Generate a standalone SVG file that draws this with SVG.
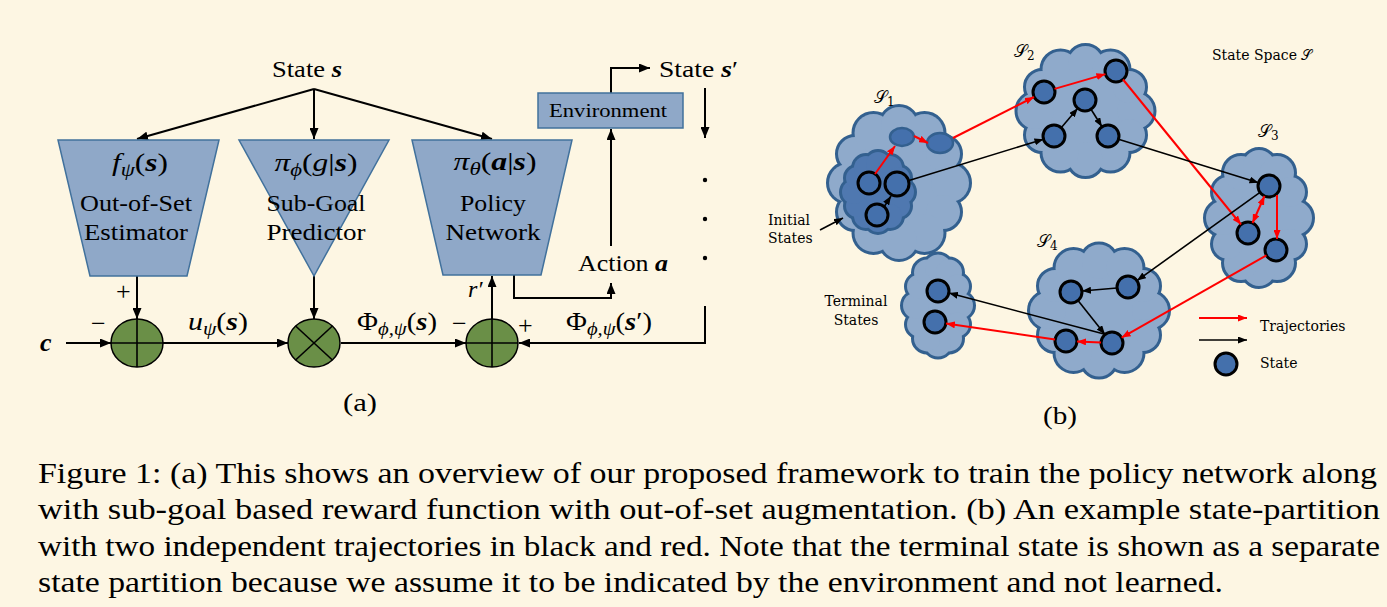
<svg xmlns="http://www.w3.org/2000/svg" xmlns:xlink="http://www.w3.org/1999/xlink" width="1387" height="607" viewBox="0 0 1387 607">
<style>
.bg{fill:#FDF6E3}
.ln{stroke:#000;stroke-width:2;fill:none}
.lb{stroke:#000;stroke-width:1.6;fill:none}
.lr{stroke:#FF0000;stroke-width:2;fill:none}
.blk{fill:#8FA8C8;stroke:#41719C;stroke-width:1.5}
.sum{fill:#6A8F47;stroke:#000;stroke-width:1.5}
.w{font-family:"DejaVu Serif","Liberation Serif",serif;fill:#000}
.m{font-family:"Liberation Serif",serif;fill:#000}
.i{font-style:italic}
.bi{font-style:italic;font-weight:bold}
.cs{fill:#33608F;stroke:#33608F;stroke-width:6}
.cf{fill:#8FAACB;stroke:none}
.cf2{fill:#4F78B0;stroke:none}
.st{fill:#4470AC;stroke:#000;stroke-width:3}
.cap{font-family:"Liberation Serif",serif;font-size:30px;fill:#000}
</style>
<defs>
<marker id="ah" markerUnits="userSpaceOnUse" markerWidth="11" markerHeight="9" refX="11" refY="4.5" orient="auto"><path d="M0,0 L11,4.5 L0,9 z" fill="#000"/></marker>
<marker id="bk" markerUnits="userSpaceOnUse" markerWidth="9" markerHeight="7" refX="9" refY="3.5" orient="auto-start-reverse"><path d="M0,0 L9,3.5 L0,7 z" fill="#000"/></marker>
<marker id="rd" markerUnits="userSpaceOnUse" markerWidth="9" markerHeight="7" refX="9" refY="3.5" orient="auto-start-reverse"><path d="M0,0 L9,3.5 L0,7 z" fill="#FF0000"/></marker>
<g id="cl1">
<ellipse cx="899" cy="183" rx="55" ry="62"/>
<circle cx="950" cy="183" r="19"/><circle cx="943" cy="212" r="17"/><circle cx="924.5" cy="233" r="19"/><circle cx="899" cy="241" r="18"/>
<circle cx="873.5" cy="233" r="19"/><circle cx="855" cy="212" r="17"/><circle cx="848" cy="183" r="19"/><circle cx="855" cy="154" r="17"/>
<circle cx="873.5" cy="133" r="19"/><circle cx="899" cy="125" r="18"/><circle cx="924.5" cy="133" r="19"/><circle cx="943" cy="154" r="17"/>
</g>
<g id="cl1i">
<ellipse cx="878" cy="192" rx="26" ry="30"/>
<circle cx="902" cy="192" r="12"/><circle cx="899" cy="206" r="11"/><circle cx="890" cy="216" r="12"/><circle cx="878" cy="220" r="12"/>
<circle cx="866" cy="216" r="12"/><circle cx="857" cy="206" r="11"/><circle cx="854" cy="192" r="12"/><circle cx="857" cy="178" r="11"/>
<circle cx="866" cy="168" r="12"/><circle cx="878" cy="164" r="12"/><circle cx="890" cy="168" r="12"/><circle cx="899" cy="178" r="11"/>
</g>
<g id="cl2">
<ellipse cx="1085.5" cy="111" rx="54" ry="52"/>
<circle cx="1135.5" cy="111" r="18"/><circle cx="1129" cy="135" r="16"/><circle cx="1110.5" cy="152.6" r="18"/><circle cx="1085.5" cy="159" r="17"/>
<circle cx="1060.5" cy="152.6" r="18"/><circle cx="1042" cy="135" r="16"/><circle cx="1035.5" cy="111" r="18"/><circle cx="1042" cy="87" r="16"/>
<circle cx="1060.5" cy="69.4" r="18"/><circle cx="1085.5" cy="63" r="17"/><circle cx="1110.5" cy="69.4" r="18"/><circle cx="1129" cy="87" r="16"/>
</g>
<g id="cl3">
<ellipse cx="1259" cy="218" rx="40" ry="56"/>
<circle cx="1295" cy="218" r="17"/><circle cx="1290" cy="244" r="15"/><circle cx="1277" cy="263" r="17"/><circle cx="1259" cy="270" r="16"/>
<circle cx="1241" cy="263" r="17"/><circle cx="1228" cy="244" r="15"/><circle cx="1223" cy="218" r="17"/><circle cx="1228" cy="192" r="15"/>
<circle cx="1241" cy="173" r="17"/><circle cx="1259" cy="166" r="16"/><circle cx="1277" cy="173" r="17"/><circle cx="1290" cy="192" r="15"/>
</g>
<g id="cl4">
<ellipse cx="1099" cy="310.5" rx="55" ry="53"/>
<circle cx="1150" cy="310.5" r="18"/><circle cx="1143" cy="335" r="16"/><circle cx="1124.5" cy="353" r="18"/><circle cx="1099" cy="359.5" r="17"/>
<circle cx="1073.5" cy="353" r="18"/><circle cx="1055" cy="335" r="16"/><circle cx="1048" cy="310.5" r="18"/><circle cx="1055" cy="286" r="16"/>
<circle cx="1073.5" cy="268" r="18"/><circle cx="1099" cy="261.5" r="17"/><circle cx="1124.5" cy="268" r="18"/><circle cx="1143" cy="286" r="16"/>
</g>
<g id="cl5">
<ellipse cx="938" cy="305.5" rx="25" ry="41"/>
<circle cx="960" cy="305.5" r="13"/><circle cx="957" cy="324.5" r="12"/><circle cx="949" cy="338.4" r="13"/><circle cx="938" cy="343.5" r="13"/>
<circle cx="927" cy="338.4" r="13"/><circle cx="919" cy="324.5" r="12"/><circle cx="916" cy="305.5" r="13"/><circle cx="919" cy="286.5" r="12"/>
<circle cx="927" cy="272.6" r="13"/><circle cx="938" cy="267.5" r="13"/><circle cx="949" cy="272.6" r="13"/><circle cx="957" cy="286.5" r="12"/>
</g>
</defs>
<rect class="bg" x="0" y="0" width="1387" height="607"/>

<!-- Part (a) -->
<g id="a-connectors">
<line class="ln" x1="314" y1="89" x2="137" y2="139" marker-end="url(#ah)"/>
<line class="ln" x1="314" y1="89" x2="314" y2="139" marker-end="url(#ah)"/>
<line class="ln" x1="314" y1="89" x2="492" y2="139" marker-end="url(#ah)"/>
<line class="ln" x1="137" y1="276" x2="137" y2="319" marker-end="url(#ah)"/>
<line class="ln" x1="314" y1="276" x2="314" y2="319" marker-end="url(#ah)"/>
<line class="ln" x1="66" y1="343" x2="111" y2="343" marker-end="url(#ah)"/>
<line class="ln" x1="163" y1="343" x2="288" y2="343" marker-end="url(#ah)"/>
<line class="ln" x1="341" y1="343" x2="466" y2="343" marker-end="url(#ah)"/>
<line class="ln" x1="492" y1="319" x2="492" y2="276" marker-end="url(#ah)"/>
<polyline class="ln" points="514,275 514,298 611,298 611,283" marker-end="url(#ah)"/>
<line class="ln" x1="611" y1="246" x2="611" y2="129" marker-end="url(#ah)"/>
<polyline class="ln" points="611,93 611,68 650,68" marker-end="url(#ah)"/>
<line class="ln" x1="705" y1="88" x2="705" y2="138" marker-end="url(#ah)"/>
<polyline class="ln" points="705,306 705,343 519,343" marker-end="url(#ah)"/>
<circle cx="705" cy="180" r="2.2" fill="#000"/>
<circle cx="705" cy="219" r="2.2" fill="#000"/>
<circle cx="705" cy="258" r="2.2" fill="#000"/>
</g>

<text class="m" x="272" y="77" font-size="23" textLength="70" lengthAdjust="spacingAndGlyphs">State <tspan class="bi">s</tspan></text>

<g id="oos">
<polygon class="blk" points="58,140 219,140 187,276 90,276"/>
<text class="m" x="140" y="171" font-size="25" text-anchor="middle" textLength="56" lengthAdjust="spacingAndGlyphs"><tspan class="i">f</tspan><tspan class="i" font-size="18" dy="5">ψ</tspan><tspan dy="-5">(</tspan><tspan class="bi">s</tspan>)</text>
<text class="m" x="136" y="211" font-size="24" text-anchor="middle" textLength="112" lengthAdjust="spacingAndGlyphs">Out-of-Set</text>
<text class="m" x="136" y="240" font-size="24" text-anchor="middle" textLength="104" lengthAdjust="spacingAndGlyphs">Estimator</text>
</g>
<g id="subgoal">
<polygon class="blk" points="239,140 389,140 314,276"/>
<text class="m" x="316" y="171" font-size="25" text-anchor="middle" textLength="83" lengthAdjust="spacingAndGlyphs"><tspan class="i">π</tspan><tspan class="i" font-size="18" dy="5">ϕ</tspan><tspan dy="-5">(</tspan><tspan class="i">g</tspan>|<tspan class="bi">s</tspan>)</text>
<text class="m" x="316" y="211" font-size="24" text-anchor="middle" textLength="99" lengthAdjust="spacingAndGlyphs">Sub-Goal</text>
<text class="m" x="316" y="240" font-size="24" text-anchor="middle" textLength="99" lengthAdjust="spacingAndGlyphs">Predictor</text>
</g>
<g id="policy">
<polygon class="blk" points="412,140 572,140 541,275 443,275"/>
<text class="m" x="495" y="170" font-size="25" text-anchor="middle" textLength="83" lengthAdjust="spacingAndGlyphs"><tspan class="i">π</tspan><tspan class="i" font-size="18" dy="5">θ</tspan><tspan dy="-5">(</tspan><tspan class="bi">a</tspan>|<tspan class="bi">s</tspan>)</text>
<text class="m" x="493" y="211" font-size="24" text-anchor="middle" textLength="66" lengthAdjust="spacingAndGlyphs">Policy</text>
<text class="m" x="493" y="240" font-size="24" text-anchor="middle" textLength="95" lengthAdjust="spacingAndGlyphs">Network</text>
</g>
<g id="env">
<rect class="blk" x="538" y="93" width="145" height="35"/>
<text class="m" x="608" y="117" font-size="19" text-anchor="middle" textLength="118" lengthAdjust="spacingAndGlyphs">Environment</text>
</g>
<g id="sum1">
<ellipse class="sum" cx="137" cy="343" rx="26" ry="24"/>
<line class="lb" x1="111" y1="343" x2="163" y2="343"/><line class="lb" x1="137" y1="319" x2="137" y2="367"/>
</g>
<g id="mul">
<ellipse class="sum" cx="314" cy="343" rx="26" ry="24"/>
<line class="lb" x1="295.6" y1="326" x2="332.4" y2="360"/><line class="lb" x1="332.4" y1="326" x2="295.6" y2="360"/>
</g>
<g id="sum2">
<ellipse class="sum" cx="492" cy="343" rx="26" ry="24"/>
<line class="lb" x1="466" y1="343" x2="518" y2="343"/><line class="lb" x1="492" y1="319" x2="492" y2="367"/>
</g>

<text class="m" x="659" y="77" font-size="23" textLength="79" lengthAdjust="spacingAndGlyphs">State <tspan class="bi">s</tspan>′</text>
<text class="m" x="578" y="271" font-size="23" textLength="90" lengthAdjust="spacingAndGlyphs">Action <tspan class="bi">a</tspan></text>
<text class="m i" x="468" y="297" font-size="24">r′</text>
<text class="m" x="40" y="351" font-size="26"><tspan class="bi">c</tspan></text>
<text class="m" x="91" y="332" font-size="26">−</text>
<text class="m" x="116" y="300" font-size="26">+</text>
<text class="m" x="452" y="332" font-size="26">−</text>
<text class="m" x="518" y="334" font-size="26">+</text>
<text class="m" x="188" y="330" font-size="25" textLength="60" lengthAdjust="spacingAndGlyphs"><tspan class="i">u</tspan><tspan class="i" font-size="18" dy="5">ψ</tspan><tspan dy="-5">(</tspan><tspan class="bi">s</tspan>)</text>
<text class="m" x="357" y="330" font-size="25" textLength="80" lengthAdjust="spacingAndGlyphs">Φ<tspan class="i" font-size="18" dy="5">ϕ,ψ</tspan><tspan dy="-5">(</tspan><tspan class="bi">s</tspan>)</text>
<text class="m" x="566" y="330" font-size="25" textLength="86" lengthAdjust="spacingAndGlyphs">Φ<tspan class="i" font-size="18" dy="5">ϕ,ψ</tspan><tspan dy="-5">(</tspan><tspan class="bi">s</tspan>′)</text>
<text class="m" x="360" y="411" font-size="26" text-anchor="middle" textLength="34" lengthAdjust="spacingAndGlyphs">(a)</text>

<!-- Part (b) -->
<g id="cloud-s1">
<use xlink:href="#cl1" class="cs"/><use xlink:href="#cl1" class="cf"/>
<use xlink:href="#cl1i" class="cs"/><use xlink:href="#cl1i" class="cf2"/>
<circle class="st" cx="869" cy="183" r="11"/>
<circle class="st" cx="897" cy="184" r="12"/>
<circle class="st" cx="877" cy="215" r="11"/>
<ellipse cx="902" cy="137" rx="12" ry="9" fill="#4470AC" stroke="#33608F" stroke-width="2.5"/>
<ellipse cx="940" cy="143" rx="13" ry="10" fill="#4470AC" stroke="#33608F" stroke-width="2.5"/>
<text class="w" x="874" y="103" font-size="17">𝒮<tspan font-size="12" dy="3">1</tspan></text>
</g>
<g id="cloud-s2">
<use xlink:href="#cl2" class="cs"/><use xlink:href="#cl2" class="cf"/>
<circle class="st" cx="1044" cy="92" r="11"/>
<circle class="st" cx="1116" cy="71" r="11"/>
<circle class="st" cx="1085" cy="100" r="11"/>
<circle class="st" cx="1054" cy="136" r="11"/>
<circle class="st" cx="1108" cy="136" r="11"/>
<text class="w" x="1014" y="57" font-size="17">𝒮<tspan font-size="12" dy="3">2</tspan></text>
</g>
<g id="cloud-s3">
<use xlink:href="#cl3" class="cs"/><use xlink:href="#cl3" class="cf"/>
<circle class="st" cx="1269" cy="186" r="11"/>
<circle class="st" cx="1248" cy="233" r="11"/>
<circle class="st" cx="1276" cy="250" r="11"/>
<text class="w" x="1258" y="137" font-size="17">𝒮<tspan font-size="12" dy="3">3</tspan></text>
</g>
<g id="cloud-s4">
<use xlink:href="#cl4" class="cs"/><use xlink:href="#cl4" class="cf"/>
<circle class="st" cx="1128" cy="287" r="11"/>
<circle class="st" cx="1071" cy="292" r="11"/>
<circle class="st" cx="1112" cy="343" r="11"/>
<circle class="st" cx="1066" cy="341" r="11"/>
<text class="w" x="1037" y="247" font-size="17">𝒮<tspan font-size="12" dy="3">4</tspan></text>
</g>
<g id="cloud-terminal">
<use xlink:href="#cl5" class="cs"/><use xlink:href="#cl5" class="cf"/>
<circle class="st" cx="938" cy="291" r="11"/>
<circle class="st" cx="935" cy="322" r="11"/>
</g>

<g id="b-connectors">
<line class="lr" x1="875" y1="174" x2="895" y2="146" marker-end="url(#rd)"/>
<line class="lr" x1="914" y1="136" x2="928" y2="143" marker-end="url(#rd)"/>
<line class="lr" x1="953" y1="138" x2="1034" y2="97" marker-end="url(#rd)"/>
<line class="lb" x1="884" y1="207" x2="891" y2="196" marker-end="url(#bk)"/>
<line class="lb" x1="909" y1="180.5" x2="1043.5" y2="139.2" marker-end="url(#bk)"/>
<line class="lr" x1="1054.6" y1="88.9" x2="1105.4" y2="74.1" marker-end="url(#rd)"/>
<line class="lb" x1="1061.2" y1="127.7" x2="1077.8" y2="108.3" marker-end="url(#bk)"/>
<line class="lb" x1="1091" y1="109.3" x2="1102" y2="126.7" marker-end="url(#bk)"/>
<line class="lr" x1="1123" y1="79.5" x2="1241" y2="224.5" marker-end="url(#rd)"/>
<line class="lb" x1="1118.5" y1="139.3" x2="1258.5" y2="182.7" marker-end="url(#bk)"/>
<line class="lr" x1="1252.5" y1="223" x2="1264.5" y2="196" marker-start="url(#rd)" marker-end="url(#rd)"/>
<line class="lr" x1="1277" y1="195" x2="1277" y2="239" marker-end="url(#rd)"/>
<line class="lr" x1="1266.4" y1="255.4" x2="1121.6" y2="337.6" marker-end="url(#rd)"/>
<line class="lb" x1="1260" y1="192.4" x2="1137" y2="280.6" marker-end="url(#bk)"/>
<line class="lb" x1="1117" y1="288" x2="1082" y2="291" marker-end="url(#bk)"/>
<line class="lb" x1="1078" y1="300.6" x2="1105" y2="334.4" marker-end="url(#bk)"/>
<line class="lr" x1="1101" y1="342.5" x2="1077" y2="341.5" marker-end="url(#rd)"/>
<line class="lb" x1="1104" y1="334" x2="949" y2="293" marker-end="url(#bk)"/>
<line class="lr" x1="1055" y1="339.4" x2="946" y2="323.6" marker-end="url(#rd)"/>
<line class="lb" x1="820" y1="230" x2="843" y2="218" marker-end="url(#bk)"/>
</g>

<g id="legend">
<line class="lr" x1="1199" y1="318" x2="1247" y2="318" marker-end="url(#rd)"/>
<line class="lb" x1="1199" y1="340" x2="1247" y2="340" marker-end="url(#bk)"/>
<circle class="st" cx="1226" cy="364" r="11"/>
<text class="w" x="1260" y="331" font-size="14">Trajectories</text>
<text class="w" x="1260" y="368" font-size="14">State</text>
</g>
<text class="w" x="1212" y="60" font-size="14">State Space 𝒮</text>
<text class="w" x="768" y="225" font-size="14">Initial</text>
<text class="w" x="768" y="243" font-size="14">States</text>
<text class="w" x="856" y="306" font-size="14" text-anchor="middle">Terminal</text>
<text class="w" x="856" y="325" font-size="14" text-anchor="middle">States</text>
<text class="m" x="1060" y="424" font-size="26" text-anchor="middle" textLength="34" lengthAdjust="spacingAndGlyphs">(b)</text>

<g id="caption">
<text class="cap" x="38" y="483" textLength="1339" lengthAdjust="spacingAndGlyphs">Figure 1: (a) This shows an overview of our proposed framework to train the policy network along</text>
<text class="cap" x="38" y="519" textLength="1342" lengthAdjust="spacingAndGlyphs">with sub-goal based reward function with out-of-set augmentation. (b) An example state-partition</text>
<text class="cap" x="38" y="556" textLength="1342" lengthAdjust="spacingAndGlyphs">with two independent trajectories in black and red. Note that the terminal state is shown as a separate</text>
<text class="cap" x="38" y="592" textLength="1185" lengthAdjust="spacingAndGlyphs">state partition because we assume it to be indicated by the environment and not learned.</text>
</g>
</svg>
